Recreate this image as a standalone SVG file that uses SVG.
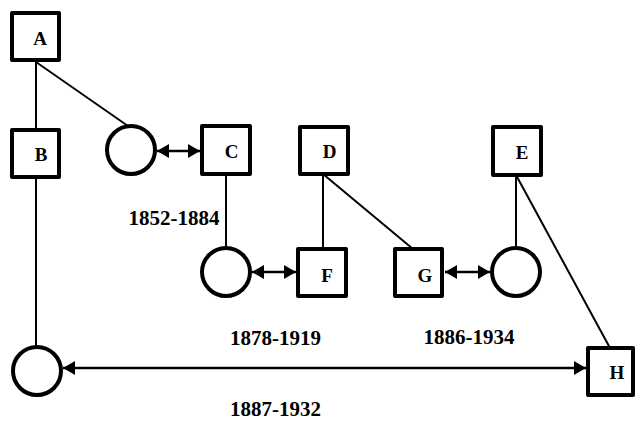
<svg xmlns="http://www.w3.org/2000/svg" width="635" height="421" viewBox="0 0 635 421">
<style>
.box{fill:#fff;stroke:#000;stroke-width:4;stroke-linejoin:round}
.circ{fill:#fff;stroke:#000;stroke-width:4}
.lbl{font-family:"Liberation Serif","Times New Roman",serif;font-weight:bold;font-size:19px;text-anchor:middle;fill:#000}
.date{font-family:"Liberation Serif","Times New Roman",serif;font-weight:bold;font-size:21px;text-anchor:middle;fill:#000}
.ln{stroke:#000;stroke-width:2;fill:none}
.arr{stroke:#000;stroke-width:2.5;fill:none;marker-start:url(#ah);marker-end:url(#ah)}
</style>
<defs>
<marker id="ah" viewBox="0 0 12 14" refX="12" refY="7" markerWidth="12" markerHeight="14" markerUnits="userSpaceOnUse" orient="auto-start-reverse">
<path d="M0,0 L12,7 L0,14 z" fill="#000"/>
</marker>
</defs>
<g id="connectors">
<line class="ln" x1="36" y1="62" x2="36" y2="130"/>
<line class="ln" x1="36" y1="62" x2="128" y2="126"/>
<line class="ln" x1="36" y1="177" x2="36" y2="347"/>
<line class="ln" x1="226" y1="174" x2="226" y2="248"/>
<line class="ln" x1="323" y1="174" x2="323" y2="249"/>
<line class="ln" x1="323" y1="174" x2="413" y2="249"/>
<line class="ln" x1="516" y1="175" x2="516" y2="248"/>
<line class="ln" x1="516" y1="175" x2="610" y2="348"/>
<line class="arr" x1="157" y1="151" x2="200" y2="151"/>
<line class="arr" x1="252" y1="272" x2="296" y2="272"/>
<line class="arr" x1="445" y1="272" x2="490" y2="272"/>
<line class="arr" x1="63" y1="368" x2="586" y2="368"/>
</g>
<g id="nodeA"><rect class="box" x="12" y="13" width="47" height="47"/><text class="lbl" x="40" y="45">A</text></g>
<g id="nodeB"><rect class="box" x="12" y="130" width="47" height="47"/><text class="lbl" x="41" y="161">B</text></g>
<g id="nodeC1"><circle class="circ" cx="131" cy="150" r="24"/></g>
<g id="nodeC"><rect class="box" x="202" y="126" width="48" height="48"/><text class="lbl" x="231.5" y="158">C</text></g>
<g id="nodeD"><rect class="box" x="300" y="127" width="48" height="47"/><text class="lbl" x="329.5" y="158">D</text></g>
<g id="nodeE"><rect class="box" x="493" y="127" width="48" height="48"/><text class="lbl" x="522" y="159">E</text></g>
<g id="nodeC2"><circle class="circ" cx="226" cy="272" r="24"/></g>
<g id="nodeF"><rect class="box" x="298" y="249" width="48" height="47"/><text class="lbl" x="327" y="282">F</text></g>
<g id="nodeG"><rect class="box" x="395" y="249" width="47" height="47"/><text class="lbl" x="425" y="282">G</text></g>
<g id="nodeC3"><circle class="circ" cx="516" cy="272" r="24"/></g>
<g id="nodeC4"><circle class="circ" cx="37" cy="371" r="24"/></g>
<g id="nodeH"><rect class="box" x="588" y="348" width="45" height="47"/><text class="lbl" x="617" y="379">H</text></g>
<g id="dates">
<text class="date" x="174" y="225">1852-1884</text>
<text class="date" x="275.5" y="345">1878-1919</text>
<text class="date" x="469" y="344">1886-1934</text>
<text class="date" x="275.5" y="416">1887-1932</text>
</g>
</svg>
